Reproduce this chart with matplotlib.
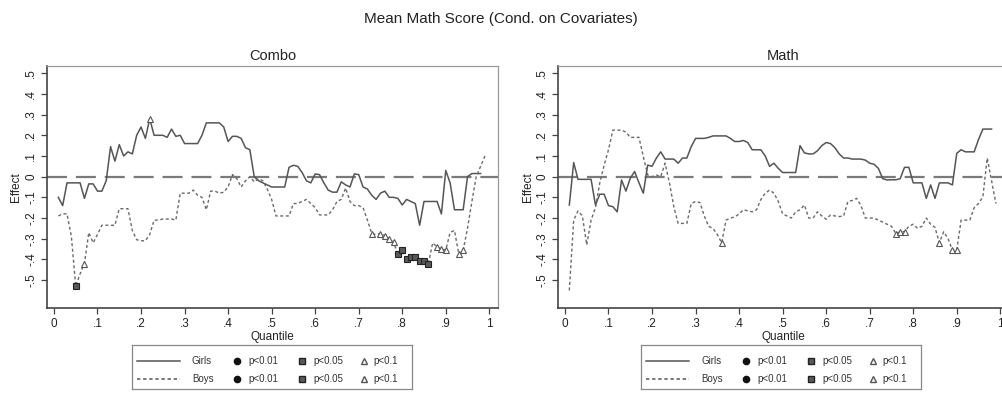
import numpy as np
import matplotlib
matplotlib.use("Agg")
import matplotlib.pyplot as plt
from matplotlib.patches import Rectangle

plt.rcParams['font.family'] = ['Liberation Sans', 'DejaVu Sans']

# quantile grid
q_girls = np.round(np.arange(1, 99) / 100, 2)
q_boys = np.round(np.arange(1, 100) / 100, 2)

# Combo panel
combo_girls = [
    -0.10, -0.14, -0.03, -0.03, -0.03, -0.03, -0.105, -0.035, -0.035, -0.07,
    -0.07, -0.02, 0.145, 0.075, 0.155, 0.10, 0.12, 0.11, 0.20, 0.24,
    0.185, 0.28, 0.20, 0.20, 0.20, 0.19, 0.23, 0.195, 0.20, 0.16,
    0.16, 0.16, 0.16, 0.20, 0.26, 0.26, 0.26, 0.26, 0.24, 0.17,
    0.195, 0.195, 0.185, 0.14, 0.13, 0.00, -0.02, -0.03, -0.04, -0.05,
    -0.05, -0.05, -0.05, 0.045, 0.055, 0.05, 0.02, -0.02, -0.03, 0.013,
    0.01, -0.03, -0.065, -0.075, -0.075, -0.025, -0.04, -0.05, 0.013, 0.01,
    -0.05, -0.06, -0.09, -0.11, -0.08, -0.07, -0.10, -0.10, -0.105, -0.137,
    -0.11, -0.12, -0.13, -0.235, -0.12, -0.12, -0.12, -0.12, -0.18, 0.03,
    -0.03, -0.16, -0.16, -0.16, 0.00, 0.015, 0.015, 0.015]
combo_boys = [
    -0.19, -0.18, -0.18, -0.29, -0.53, -0.47, -0.42, -0.27, -0.32, -0.28,
    -0.235, -0.235, -0.235, -0.235, -0.155, -0.155, -0.155, -0.26, -0.305, -0.31,
    -0.31, -0.28, -0.21, -0.21, -0.205, -0.205, -0.205, -0.21, -0.08, -0.08,
    -0.08, -0.065, -0.09, -0.10, -0.16, -0.07, -0.07, -0.08, -0.075, -0.05,
    0.01, -0.01, -0.05, -0.02, 0.00, -0.025, -0.01, -0.02, -0.06, -0.11,
    -0.19, -0.19, -0.19, -0.19, -0.13, -0.13, -0.12, -0.11, -0.13, -0.15,
    -0.185, -0.185, -0.185, -0.16, -0.12, -0.11, -0.055, -0.12, -0.14, -0.14,
    -0.15, -0.21, -0.275, -0.28, -0.275, -0.285, -0.30, -0.315, -0.375, -0.355,
    -0.40, -0.39, -0.39, -0.41, -0.41, -0.42, -0.32, -0.34, -0.35, -0.355,
    -0.27, -0.26, -0.375, -0.355, -0.25, -0.12, 0.00, 0.05, 0.10]
combo_girls_p10 = [0.22]
combo_boys_p05 = [0.05, 0.79, 0.80, 0.81, 0.82, 0.83, 0.84, 0.85, 0.86]
combo_boys_p10 = [0.07, 0.73, 0.75, 0.76, 0.77, 0.78, 0.88, 0.89, 0.90, 0.93, 0.94]

# Math panel
math_girls = [
    -0.137, 0.068, -0.013, -0.013, -0.013, -0.013, -0.137, -0.085, -0.085, -0.14,
    -0.145, -0.17, -0.016, -0.07, -0.008, 0.025, -0.03, -0.08, 0.056, 0.05,
    0.09, 0.12, 0.085, 0.085, 0.085, 0.065, 0.09, 0.09, 0.145, 0.185,
    0.185, 0.185, 0.19, 0.197, 0.197, 0.197, 0.197, 0.185, 0.17, 0.17,
    0.175, 0.165, 0.13, 0.13, 0.13, 0.10, 0.05, 0.065, 0.04, 0.02,
    0.02, 0.02, 0.02, 0.15, 0.115, 0.11, 0.11, 0.125, 0.15, 0.165,
    0.16, 0.14, 0.11, 0.09, 0.09, 0.085, 0.085, 0.085, 0.08, 0.065,
    0.06, 0.04, -0.01, -0.016, -0.015, -0.015, -0.01, 0.045, 0.045, -0.03,
    -0.03, -0.03, -0.105, -0.04, -0.105, -0.03, -0.03, -0.03, -0.04, 0.113,
    0.13, 0.12, 0.12, 0.12, 0.18, 0.23, 0.23, 0.23]
math_boys = [
    -0.55, -0.21, -0.166, -0.19, -0.33, -0.21, -0.15, -0.03, 0.056, 0.13,
    0.225, 0.225, 0.225, 0.215, 0.19, 0.19, 0.19, 0.097, 0.008, 0.00,
    0.008, 0.00, 0.065, -0.03, -0.145, -0.226, -0.226, -0.226, -0.13, -0.12,
    -0.125, -0.19, -0.24, -0.25, -0.28, -0.32, -0.21, -0.20, -0.195, -0.18,
    -0.16, -0.165, -0.17, -0.16, -0.11, -0.08, -0.065, -0.08, -0.12, -0.18,
    -0.19, -0.20, -0.17, -0.16, -0.137, -0.20, -0.20, -0.17, -0.19, -0.206,
    -0.185, -0.19, -0.193, -0.19, -0.12, -0.115, -0.105, -0.14, -0.20, -0.20,
    -0.20, -0.21, -0.22, -0.23, -0.24, -0.275, -0.266, -0.266, -0.24, -0.23,
    -0.25, -0.24, -0.20, -0.23, -0.245, -0.32, -0.266, -0.30, -0.355, -0.355,
    -0.21, -0.21, -0.21, -0.15, -0.13, -0.097, 0.09, -0.02, -0.13]
math_girls_p10 = []
math_boys_p05 = []
math_boys_p10 = [0.36, 0.76, 0.77, 0.78, 0.86, 0.89, 0.90]

x_ticks = [0, 0.1, 0.2, 0.3, 0.4, 0.5, 0.6, 0.7, 0.8, 0.9, 1.0]
x_labels = ['0', '.1', '.2', '.3', '.4', '.5', '.6', '.7', '.8', '.9', '1']
y_ticks = [-0.5, -0.4, -0.3, -0.2, -0.1, 0, 0.1, 0.2, 0.3, 0.4, 0.5]
y_labels = ['-.5', '-.4', '-.3', '-.2', '-.1', '0', '.1', '.2', '.3', '.4', '.5']

W, H = 1002, 394
LINE_C = '#555555'
BOYS_C = '#6a6a6a'


def pick(qs, vals, where):
    d = dict(zip(qs, vals))
    return [d[w] for w in where]


def panel(ax, title, girls, boys, g10, b05, b10):
    ax.axhline(0, color='#7a7a7a', lw=1.6, dashes=(9, 4), zorder=1)
    ax.plot(q_girls, girls, color=LINE_C, lw=1.1, zorder=2)
    ax.plot(q_boys, boys, color=BOYS_C, lw=1.0, dashes=(2.2, 1.8), zorder=2)
    if g10:
        ax.plot(g10, pick(q_girls, girls, g10), ls='none', marker='^', ms=5,
                mfc='white', mec='#555555', mew=0.8, zorder=3)
    if b05:
        ax.plot(b05, pick(q_boys, boys, b05), ls='none', marker='s', ms=5,
                mfc='#5a5a5a', mec='#222222', mew=0.8, zorder=3)
    if b10:
        ax.plot(b10, pick(q_boys, boys, b10), ls='none', marker='^', ms=5,
                mfc='white', mec='#555555', mew=0.8, zorder=3)
    ax.set_xlim(-0.016, 1.02)
    ax.set_ylim(-0.635, 0.535)
    ax.set_xticks(x_ticks)
    ax.set_xticklabels(x_labels, fontsize=8.5)
    ax.set_yticks(y_ticks)
    ax.set_yticklabels(y_labels, fontsize=8.5, rotation=90, va='center')
    ax.tick_params(direction='out', length=4, width=0.9, color='#444444',
                   labelcolor='#222222', pad=3)
    for s in ['top', 'right']:
        ax.spines[s].set_color('#999999')
        ax.spines[s].set_linewidth(0.9)
    for s in ['left', 'bottom']:
        ax.spines[s].set_color('#444444')
        ax.spines[s].set_linewidth(1.2)
    ax.set_xlabel('Quantile', fontsize=8.5, labelpad=1, color='#222222')
    ax.set_ylabel('Effect', fontsize=8.5, labelpad=2, color='#222222')
    ax.set_title(title, fontsize=10.5, pad=4, color='#222222')


def legend_box(fig, x0, y0):
    lax = fig.add_axes([x0 / W, 1 - (y0 + 44) / H, 280 / W, 44 / H])
    lax.set_xlim(0, 280)
    lax.set_ylim(44, 0)
    lax.set_xticks([])
    lax.set_yticks([])
    for s in lax.spines.values():
        s.set_color('#888888')
        s.set_linewidth(0.9)
    rows = [(15.5, 'Girls', '-'), (34, 'Boys', (0, (2.2, 1.8)))]
    for y, name, ls in rows:
        lax.plot([5, 48], [y, y], color=LINE_C, lw=1.1, ls=ls)
        lax.text(60, y, name, fontsize=7, va='center', color='#333333')
        lax.plot([105], [y], marker='o', ms=4.5, color='#111111')
        lax.text(116, y, 'p<0.01', fontsize=7, va='center', color='#333333')
        lax.plot([170], [y], marker='s', ms=4.5, mfc='#5a5a5a', mec='#222222')
        lax.text(181, y, 'p<0.05', fontsize=7, va='center', color='#333333')
        lax.plot([232], [y], marker='^', ms=4.5, mfc='white', mec='#555555')
        lax.text(241, y, 'p<0.1', fontsize=7, va='center', color='#333333')


fig = plt.figure(figsize=(W / 100, H / 100), dpi=100)
fig.text(0.5, 1 - 19 / H, 'Mean Math Score (Cond. on Covariates)',
         ha='center', va='center', fontsize=11, color='#222222')

ax1 = fig.add_axes([47 / W, 1 - 308 / H, 451 / W, 242 / H])
panel(ax1, 'Combo', combo_girls, combo_boys,
      combo_girls_p10, combo_boys_p05, combo_boys_p10)

ax2 = fig.add_axes([558 / W, 1 - 308 / H, 451 / W, 242 / H])
panel(ax2, 'Math', math_girls, math_boys,
      math_girls_p10, math_boys_p05, math_boys_p10)

legend_box(fig, 132, 345)
legend_box(fig, 641, 345)

fig.savefig('out.png', dpi=100, facecolor='white')
